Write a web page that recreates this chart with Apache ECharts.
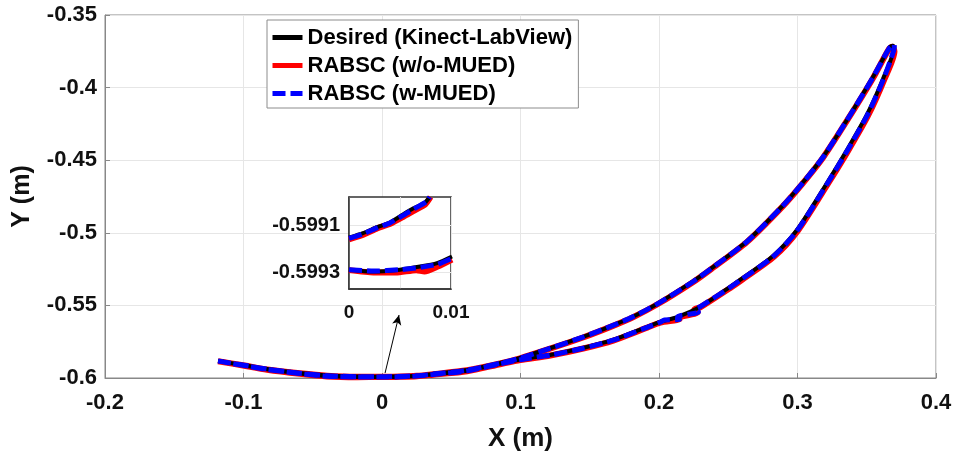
<!DOCTYPE html>
<html>
<head>
<meta charset="utf-8">
<script src="https://cdn.jsdelivr.net/npm/echarts@6/dist/echarts.min.js"></script>
<style>
html,body{margin:0;padding:0;background:#fff;}
#chart{width:957px;height:459px;}
</style>
</head>
<body>
<div id="chart"></div>
<script>
// ---- data ----
const seriesNames = ['Desired (Kinect-LabView)', 'RABSC (w/o-MUED)', 'RABSC (w-MUED)'];
const xTicks = { min: -0.2, max: 0.4, interval: 0.1 };
const yTicks = { min: -0.6, max: -0.35, interval: 0.05 };
const insetXTicks = { min: 0, max: 0.01, interval: 0.005, labels: [0, 0.01] };
const insetYTicks = { min: -0.59937, max: -0.59898, labels: [-0.5993, -0.5991] };

const desired = [
[-0.1184,-0.5883],[-0.1004,-0.5910],[-0.0830,-0.5938],[-0.0592,-0.5966],[-0.0397,-0.5983],[-0.0181,-0.5990],[0.0000,-0.59915],[0.0075,-0.5990],[0.0253,-0.5984],[0.0368,-0.5972],[0.0614,-0.5945],[0.0852,-0.5897],[0.0996,-0.5862],
[0.1213,-0.5795],[0.1451,-0.5717],[0.1668,-0.5637],[0.1812,-0.5578],[0.1986,-0.5490],[0.2245,-0.5335],[0.2368,-0.5252],[0.2635,-0.5058],[0.2895,-0.4812],[0.3040,-0.4652],[0.3184,-0.4478],[0.3357,-0.4223],[0.3545,-0.3927],[0.3668,-0.3720],[0.3690,-0.3712],
[0.3690,-0.3741],[0.3617,-0.3940],[0.3502,-0.4185],[0.3357,-0.4430],[0.3213,-0.4657],[0.2996,-0.4981],[0.2823,-0.5160],[0.2585,-0.5325],[0.2513,-0.5373],[0.2296,-0.5511],[0.2130,-0.5580],[0.2007,-0.5614],[0.1913,-0.5649],[0.1668,-0.5738],[0.1451,-0.5793],[0.1213,-0.5841],[0.0996,-0.5872],[0.0852,-0.5902],[0.0614,-0.5950],[0.0368,-0.5975],[0.0253,-0.5986],[0.0100,-0.59924],[0.0050,-0.59929],[0.0000,-0.59929],[-0.0181,-0.5993],[-0.0397,-0.5987],[-0.0592,-0.5969],[-0.0830,-0.5940],[-0.1004,-0.5912],[-0.1150,-0.5888]
];
const rabscWo = [
[-0.1184,-0.5885],[-0.1004,-0.5912],[-0.0830,-0.5941],[-0.0592,-0.5968],[-0.0397,-0.5985],[-0.0181,-0.5992],[0.0000,-0.59916],[0.0076,-0.5991],[0.0253,-0.5985],[0.0368,-0.5974],[0.0614,-0.5947],[0.0852,-0.5900],[0.0996,-0.5864],
[0.1213,-0.5798],[0.1451,-0.5721],[0.1668,-0.5641],[0.1812,-0.5582],[0.1986,-0.5494],[0.2245,-0.5340],[0.2368,-0.5256],[0.2635,-0.5063],[0.2895,-0.4816],[0.3040,-0.4657],[0.3184,-0.4483],[0.3357,-0.4228],[0.3545,-0.3935],[0.3660,-0.3735],[0.3685,-0.3718],
[0.3700,-0.3750],[0.3625,-0.3948],[0.3510,-0.4192],[0.3365,-0.4436],[0.3220,-0.4662],[0.3003,-0.4985],[0.2830,-0.5165],[0.2590,-0.5330],[0.2518,-0.5378],[0.2300,-0.5512],[0.2255,-0.5528],[0.2280,-0.5548],[0.2140,-0.5585],[0.2150,-0.5594],[0.2010,-0.5618],[0.1915,-0.5653],[0.1670,-0.5742],[0.1453,-0.5797],[0.1215,-0.5845],[0.0998,-0.5876],[0.0852,-0.5905],[0.0614,-0.5953],[0.0368,-0.5977],[0.0253,-0.5988],[0.0100,-0.59925],[0.0050,-0.59930],[0.0000,-0.59930],[-0.0181,-0.5994],[-0.0397,-0.5989],[-0.0592,-0.5971],[-0.0830,-0.5943],[-0.1004,-0.5914],[-0.1150,-0.5890]
];
const rabscW = [
[-0.1184,-0.5883],[-0.1004,-0.5911],[-0.0830,-0.5939],[-0.0592,-0.5967],[-0.0397,-0.5984],[-0.0181,-0.5991],[0.0000,-0.59915],[0.0076,-0.5990],[0.0253,-0.5984],[0.0368,-0.5973],[0.0614,-0.5946],[0.0852,-0.5898],[0.0996,-0.5863],
[0.1213,-0.5796],[0.1451,-0.5718],[0.1668,-0.5638],[0.1812,-0.5579],[0.1986,-0.5491],[0.2245,-0.5337],[0.2368,-0.5253],[0.2635,-0.5060],[0.2895,-0.4813],[0.3040,-0.4654],[0.3184,-0.4480],[0.3357,-0.4225],[0.3545,-0.3930],[0.3665,-0.3725],[0.3700,-0.3705],
[0.3695,-0.3745],[0.3620,-0.3943],[0.3505,-0.4188],[0.3360,-0.4433],[0.3216,-0.4659],[0.2999,-0.4983],[0.2826,-0.5162],[0.2587,-0.5327],[0.2515,-0.5375],[0.2298,-0.5508],[0.2265,-0.5522],[0.2285,-0.5545],[0.2135,-0.5578],[0.2148,-0.5596],[0.2040,-0.5600],[0.2008,-0.5616],[0.1914,-0.5651],[0.1669,-0.5740],[0.1452,-0.5795],[0.1214,-0.5843],[0.0997,-0.5874],[0.0852,-0.5903],[0.0614,-0.5951],[0.0368,-0.5976],[0.0253,-0.5987],[0.0100,-0.59924],[0.0050,-0.59929],[0.0000,-0.59929],[-0.0181,-0.5993],[-0.0397,-0.5988],[-0.0592,-0.5970],[-0.0830,-0.5941],[-0.1004,-0.5913],[-0.1180,-0.5884]
];

// inset (zoomed view near x = 0..0.01)
const insetDesiredUpper = [[0,-0.599152],[0.00137,-0.599133],[0.00275,-0.599108],[0.00402,-0.599088],[0.0053,-0.599054],[0.00627,-0.599029],[0.00745,-0.599004],[0.0079,-0.59898]];
const insetWoUpper = [[0,-0.599160],[0.0014,-0.599140],[0.0028,-0.599112],[0.0041,-0.599092],[0.0054,-0.599062],[0.0063,-0.599040],[0.0075,-0.599010],[0.0080,-0.59898]];
const insetWUpper = [[0,-0.599155],[0.0014,-0.599136],[0.0028,-0.599110],[0.0040,-0.599090],[0.0053,-0.599058],[0.0063,-0.599032],[0.0076,-0.599000],[0.0079,-0.59898]];
const insetDesiredLower = [[0,-0.599288],[0.00235,-0.599296],[0.005,-0.599288],[0.00696,-0.599275],[0.00863,-0.599260],[0.0101,-0.599232]];
const insetWoLower = [[0,-0.599290],[0.0024,-0.599300],[0.0046,-0.599300],[0.0066,-0.599290],[0.0074,-0.599296],[0.0087,-0.599275],[0.0101,-0.599245]];
const insetWLower = [[0,-0.599288],[0.0024,-0.599294],[0.005,-0.599288],[0.007,-0.599278],[0.0087,-0.599265],[0.0101,-0.599240]];

// arrow from curve to inset (data coords)
const arrowFrom = [0.0022, -0.5966];
const arrowTo = [0.0123, -0.5566];

// ---- chart ----
const FONT = '"Liberation Sans", Arial, Helvetica, sans-serif';
const chart = echarts.init(document.getElementById('chart'), null, { renderer: 'canvas' });

const colors = { desired: '#000000', wo: '#ff0000', w: '#0000ff' };

function lineSeries(name, data, color, width, dashed, xi, z, smooth) {
  return {
    name: name, type: 'line', data: data,
    xAxisIndex: xi, yAxisIndex: xi,
    showSymbol: false, symbol: 'none', smooth: smooth, clip: true,
    lineStyle: { color: color, width: width, type: dashed ? [13, 5] : 'solid', cap: 'butt', join: 'round' },
    itemStyle: { color: color },
    z: z, animation: false, silent: true
  };
}

const option = {
  backgroundColor: '#fff',
  animation: false,
  legend: {
    data: seriesNames,
    orient: 'vertical',
    left: 267, top: 20,
    padding: [6, 6, 3, 3],
    itemGap: 5,
    itemWidth: 30, itemHeight: 14,
    backgroundColor: '#fff',
    borderColor: '#8c8c8c', borderWidth: 1,
    itemStyle: { opacity: 0 },
    lineStyle: { width: 5 },
    textStyle: { fontFamily: FONT, fontSize: 22, fontWeight: 'bold', color: '#000', lineHeight: 23 },
    z: 10
  },
  grid: [
    { left: 105, top: 15, right: 21, bottom: 81, show: true, borderColor: '#888', borderWidth: 1, backgroundColor: '#fff', z: 0 },
    { left: 349, top: 197, width: 102, height: 92, show: true, borderColor: '#333', borderWidth: 1.5, backgroundColor: '#fff', z: 6 }
  ],
  xAxis: [
    {
      type: 'value', gridIndex: 0, min: xTicks.min, max: xTicks.max, interval: xTicks.interval,
      name: 'X (m)', nameLocation: 'middle', nameGap: 48,
      nameTextStyle: { fontFamily: FONT, fontSize: 26, fontWeight: 'bold', color: '#111' },
      axisLine: { show: true, onZero: false, lineStyle: { color: '#888', width: 1 } },
      axisTick: { show: true, inside: true, length: 5, lineStyle: { color: '#888' } },
      axisLabel: { fontFamily: FONT, fontSize: 22, fontWeight: 'bold', color: '#111', margin: 14 },
      splitLine: { show: true, lineStyle: { color: '#e6e6e6', width: 1 } }
    },
    {
      type: 'value', gridIndex: 1, min: insetXTicks.min, max: insetXTicks.max, interval: insetXTicks.interval,
      axisLine: { show: true, onZero: false, lineStyle: { color: '#333', width: 1.5 } },
      axisTick: { show: false },
      axisLabel: {
        fontFamily: FONT, fontSize: 19, fontWeight: 'bold', color: '#111', margin: 14,
        formatter: function (v) { return insetXTicks.labels.some(t => Math.abs(t - v) < 1e-9) ? String(v) : ''; }
      },
      splitLine: { show: true, lineStyle: { color: '#e6e6e6', width: 1 } },
      z: 7
    }
  ],
  yAxis: [
    {
      type: 'value', gridIndex: 0, min: yTicks.min, max: yTicks.max, interval: yTicks.interval,
      name: 'Y (m)', nameLocation: 'middle', nameGap: 70,
      nameTextStyle: { fontFamily: FONT, fontSize: 25, fontWeight: 'bold', color: '#111' },
      axisLine: { show: true, onZero: false, lineStyle: { color: '#888', width: 1 } },
      axisTick: { show: true, inside: true, length: 5, lineStyle: { color: '#888' } },
      axisLabel: { fontFamily: FONT, fontSize: 22, fontWeight: 'bold', color: '#111', margin: 8 },
      splitLine: { show: true, lineStyle: { color: '#e6e6e6', width: 1 } }
    },
    {
      type: 'value', gridIndex: 1, min: insetYTicks.min, max: insetYTicks.max,
      axisLine: { show: true, onZero: false, lineStyle: { color: '#333', width: 1.5 } },
      axisTick: { show: false, customValues: insetYTicks.labels },
      axisLabel: {
        customValues: insetYTicks.labels,
        fontFamily: FONT, fontSize: 20, fontWeight: 'bold', color: '#111', margin: 9,
        formatter: function (v) { return v.toFixed(4); }
      },
      splitLine: { show: true, lineStyle: { color: '#e6e6e6', width: 1 } },
      z: 7
    }
  ],
  series: [
    lineSeries(seriesNames[1], rabscWo, colors.wo, 6, false, 0, 2, 0.25),
    lineSeries(seriesNames[0], desired, colors.desired, 4, false, 0, 3, 0.25),
    lineSeries(seriesNames[2], rabscW, colors.w, 5, true, 0, 4, 0.25),
    lineSeries(seriesNames[1], insetWoUpper, colors.wo, 6, false, 1, 8, 0.2),
    lineSeries(seriesNames[1], insetWoLower, colors.wo, 6, false, 1, 8, 0.2),
    lineSeries(seriesNames[0], insetDesiredUpper, colors.desired, 4, false, 1, 9, 0.2),
    lineSeries(seriesNames[0], insetDesiredLower, colors.desired, 4, false, 1, 9, 0.2),
    lineSeries(seriesNames[2], insetWUpper, colors.w, 5, true, 1, 10, 0.2),
    lineSeries(seriesNames[2], insetWLower, colors.w, 5, true, 1, 10, 0.2),
    {
      name: 'arrow', type: 'line', data: [], xAxisIndex: 0, yAxisIndex: 0, z: 5,
      markLine: {
        silent: true, animation: false,
        symbol: ['none', 'arrow'], symbolSize: [7, 10],
        label: { show: false },
        lineStyle: { color: '#000', width: 1, type: 'solid' },
        data: [[{ coord: arrowFrom }, { coord: arrowTo }]]
      }
    }
  ]
};
chart.setOption(option);
</script>
</body>
</html>
